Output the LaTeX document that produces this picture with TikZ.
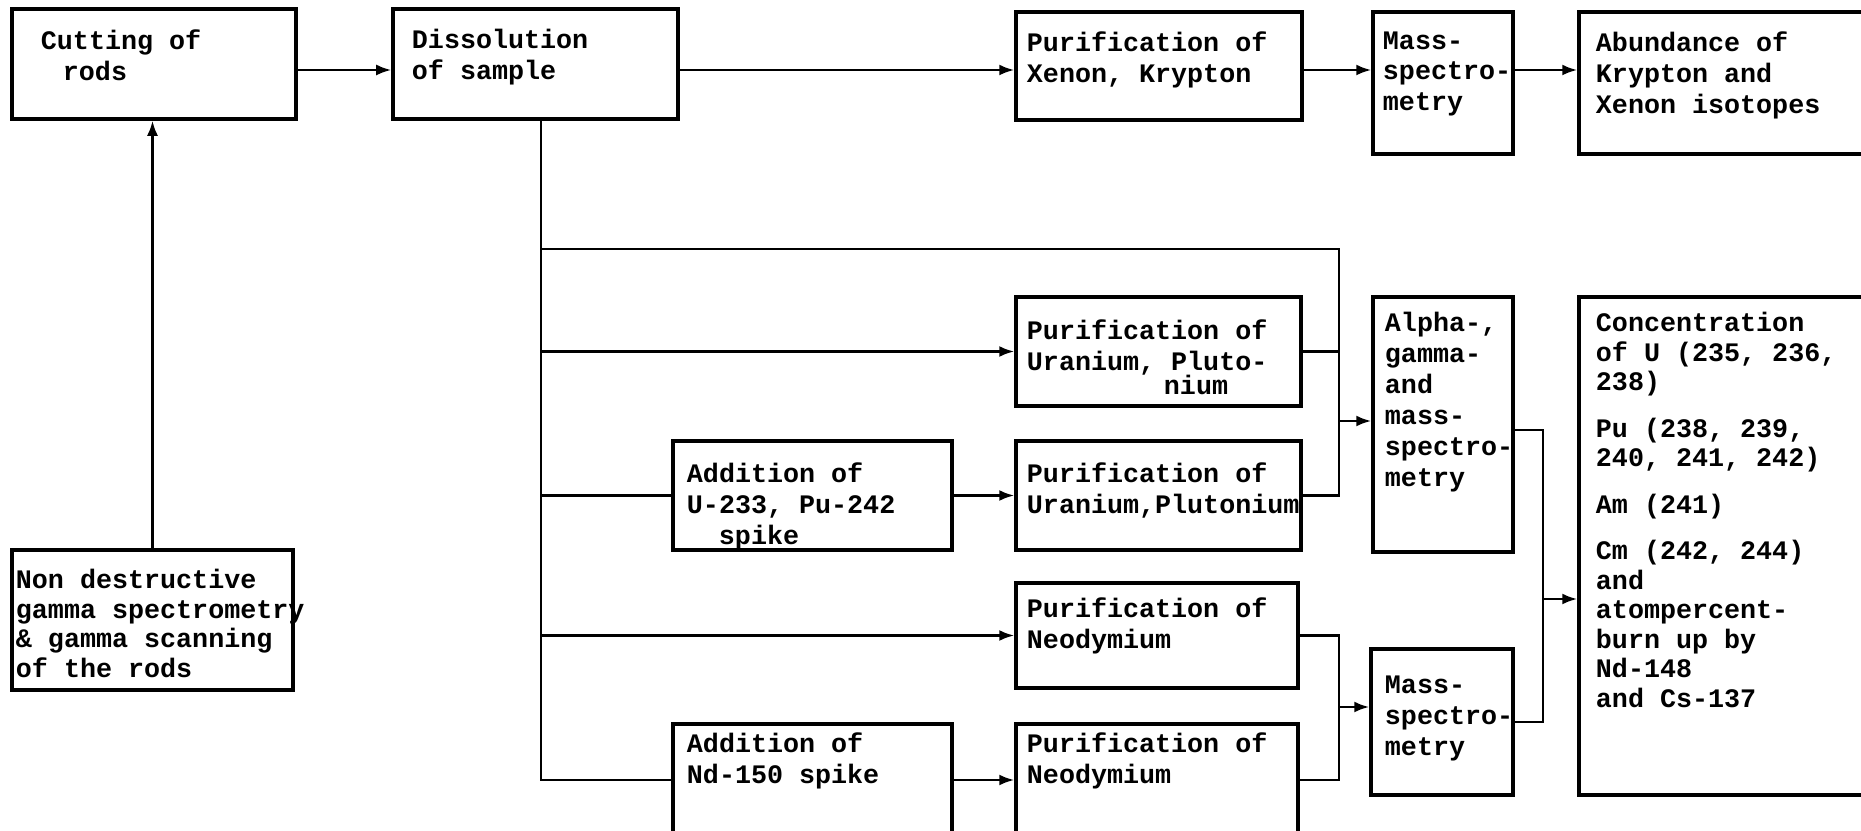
\documentclass[tikz,border=0pt]{standalone}
\usepackage{fontspec}
\newfontfamily\typewriter{Liberation Mono}
\usepackage{tikz}
\usetikzlibrary{arrows.meta,calc}
\tikzstyle{tsText} = [ 
    text=black, 
    font=\typewriter\bfseries\fontsize{7.6pt}{8.8pt}\selectfont,
    align=left,
    anchor=north west,
    inner sep=0pt,
    execute at begin node=\strut
]
\tikzstyle{tsTextTight} = [ 
    tsText,
    font=\typewriter\bfseries\fontsize{7.6pt}{8.4pt}\selectfont
]
\tikzstyle{tsBox} = [ 
    rectangle,
    draw=black,
    line width=1pt,
    inner sep=0pt
]
\tikzstyle{tsLine} = [ 
    draw=black,
    line width=0.7pt
]
\tikzstyle{tsArrow} = [ 
    tsLine,
    -{Latex[length=1.5mm,width=1.1mm]}
]
\begin{document}
\begin{tikzpicture}
        \useasboundingbox (0,0) rectangle (18.61,8.31);

        % boxes
        \node[tsBox, minimum width=2.84cm, minimum height=1.10cm] (cut) at (1.54,7.67) {};
        \node[tsBox, minimum width=2.85cm, minimum height=1.10cm] (diss) at (5.355,7.67) {};
        \node[tsBox, minimum width=2.86cm, minimum height=1.08cm] (pxk) at (11.59,7.65) {};
        \node[tsBox, minimum width=1.40cm, minimum height=1.42cm] (ms1) at (14.43,7.48) {};
        \node[tsBox, minimum width=3.02cm, minimum height=1.42cm] (abund) at (17.30,7.48) {};
        \node[tsBox, minimum width=2.81cm, minimum height=1.40cm] (ndr) at (1.525,2.11) {};
        \node[tsBox, minimum width=2.85cm, minimum height=1.09cm] (pup1) at (11.585,4.795) {};
        \node[tsBox, minimum width=2.79cm, minimum height=1.09cm] (addu) at (8.125,3.355) {};
        \node[tsBox, minimum width=2.85cm, minimum height=1.09cm] (pup2) at (11.585,3.355) {};
        \node[tsBox, minimum width=1.40cm, minimum height=2.55cm] (alpha) at (14.43,4.065) {};
        \node[tsBox, minimum width=2.82cm, minimum height=1.05cm] (pnd1) at (11.57,1.955) {};
        \node[tsBox, minimum width=2.79cm, minimum height=1.12cm] (addnd) at (8.125,0.51) {};
        \node[tsBox, minimum width=2.82cm, minimum height=1.12cm] (pnd2) at (11.57,0.51) {};
        \node[tsBox, minimum width=1.42cm, minimum height=1.46cm] (ms2) at (14.42,1.09) {};
        \node[tsBox, minimum width=3.02cm, minimum height=4.98cm] (conc) at (17.30,2.85) {};

        % texts
        \node[tsText] (cut-t) at ([shift={(0.30,-0.215)}]cut.north west) {Cutting of\\\hspace*{0.22cm}rods};
        \node[tsText] (diss-t) at ([shift={(0.20,-0.215)}]diss.north west) {Dissolution\\of sample};
        \node[tsText] (pxk-t) at ([shift={(0.12,-0.205)}]pxk.north west) {Purification of\\Xenon, Krypton};
        \node[tsText] (ms1-t) at ([shift={(0.11,-0.205)}]ms1.north west) {Mass-\\spectro-\\metry};
        \node[tsText] (abund-t) at ([shift={(0.18,-0.205)}]abund.north west) {Abundance of\\Krypton and\\Xenon isotopes};
        \node[tsTextTight] (ndr-t) at ([shift={(0.05,-0.205)}]ndr.north west) {Non destructive\\gamma spectrometry\\\& gamma scanning\\of the rods};
        \node[tsText] (pup1-t) at ([shift={(0.12,-0.235)}]pup1.north west) {Purification of\\Uranium, Pluto-\\[-2pt]\hspace*{1.37cm}nium};
        \node[tsText] (addu-t) at ([shift={(0.15,-0.23)}]addu.north west) {Addition of\\U-233, Pu-242\\\hspace*{0.32cm}spike};
        \node[tsText] (pup2-t) at ([shift={(0.12,-0.23)}]pup2.north west) {Purification of\\Uranium,Plutonium};
        \node[tsText] (alpha-t) at ([shift={(0.13,-0.165)}]alpha.north west) {Alpha-,\\gamma-\\and\\mass-\\spectro-\\metry};
        \node[tsText] (pnd1-t) at ([shift={(0.12,-0.155)}]pnd1.north west) {Purification of\\Neodymium};
        \node[tsText] (addnd-t) at ([shift={(0.15,-0.095)}]addnd.north west) {Addition of\\Nd-150 spike};
        \node[tsText] (pnd2-t) at ([shift={(0.12,-0.095)}]pnd2.north west) {Purification of\\Neodymium};
        \node[tsText] (ms2-t) at ([shift={(0.15,-0.28)}]ms2.north west) {Mass-\\spectro-\\metry};
        \node[tsTextTight] (conc-t) at ([shift={(0.18,-0.165)}]conc.north west) {Concentration\\of U (235, 236,\\238)\\[4.8pt]Pu (238, 239,\\240, 241, 242)\\[4.8pt]Am (241)\\[4.8pt]Cm (242, 244)\\and\\atompercent-\\burn up by\\Nd-148\\and Cs-137};

        % junctions
        \coordinate (cutout) at ([yshift=-0.06cm]cut.east);
        \coordinate (dissout) at ([yshift=-0.06cm]diss.east);
        \coordinate (pxkout) at ([yshift=-0.04cm]pxk.east);
        \coordinate (ms1out) at (ms1.east |- pxkout);
        \coordinate (trunk) at ([xshift=0.055cm]diss.south);
        \coordinate (busR) at (13.39,5.82);
        \coordinate (ujoin) at (13.39,4.10);
        \coordinate (ndjoin) at (13.39,1.24);
        \coordinate (alphaout) at ([yshift=-0.055cm]alpha.east);
        \coordinate (outjoin) at (15.43,2.32);

        % top row
        \draw[tsArrow] (cutout) -- (cutout -| diss.west);
        \draw[tsArrow] (dissout) -- (dissout -| pxk.west);
        \draw[tsArrow] (pxkout) -- (pxkout -| ms1.west);
        \draw[tsArrow] (ms1out) -- (ms1out -| abund.west);
        \draw[tsArrow] (ndr.north) -- (ndr.north |- cut.south);

        % trunk and branches
        \draw[tsLine] (trunk) |- (addnd.west);
        \draw[tsLine] (trunk |- busR) -- (busR) |- (pup2.east);
        \draw[tsArrow] (trunk |- pup1.west) -- (pup1.west);
        \draw[tsLine] (pup1.east) -- (pup1.east -| busR);
        \draw[tsLine] (trunk |- addu.west) -- (addu.west);
        \draw[tsArrow] (addu) -- (pup2);
        \draw[tsArrow] (ujoin) -- (ujoin -| alpha.west);
        \draw[tsArrow] (trunk |- pnd1.west) -- (pnd1.west);
        \draw[tsArrow] (addnd) -- (pnd2);
        \draw[tsLine] (pnd1.east) -| (ndjoin) |- (pnd2.east);
        \draw[tsArrow] (ndjoin) -- (ndjoin -| ms2.west);
        \draw[tsLine] (alphaout) -| (outjoin) |- (ms2.east);
        \draw[tsArrow] (outjoin) -- (outjoin -| conc.west);
\end{tikzpicture}
\end{document}
